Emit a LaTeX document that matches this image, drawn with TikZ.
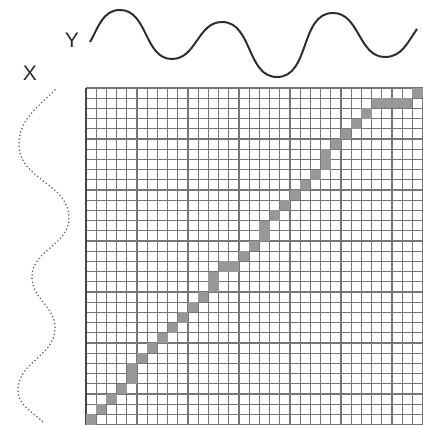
\documentclass[tikz,border=0pt]{standalone}
\usepackage{fontspec}
\setsansfont{Liberation Sans}
\usepackage{tikz}
\definecolor{gridc}{RGB}{118,118,118}
\definecolor{warpc}{RGB}{152,152,152}
\definecolor{wavec}{RGB}{45,45,45}
\definecolor{dotc}{RGB}{100,100,100}

\begin{document}
\begin{tikzpicture}[x=0.25mm,y=-0.25mm]
\useasboundingbox (0,0) rectangle (422,425);
\node[wavec,font=\sffamily\fontsize{15}{17}\selectfont] (ylab) at (72,40) {Y};
\node[wavec,font=\sffamily\fontsize{15}{17}\selectfont] (xlab) at (30,73) {X};
\draw[wavec,line width=1.4pt] (90,42) to[out=60,in=180] (120,10) to[out=0,in=180] (172,59)
  to[out=0,in=180] (222,22) to[out=0,in=180] (277,77) to[out=0,in=180] (333,13)
  to[out=0,in=180] (385,57) to[out=0,in=235] (417,29);
\draw[dotc,line width=1.25pt,line cap=round,dash pattern=on 0pt off 2.6pt] (55,90) to[out=225,in=90] (19,145)
  to[out=270,in=90] (69,218) to[out=270,in=90] (32,277) to[out=270,in=90] (55,328)
  to[out=270,in=90] (18,390) to[out=270,in=135] (43,422);
\begin{scope}[shift={(86,88)},x=2.55mm,y=-2.55mm]
\foreach \i in {0,...,33}{\draw[gridc,line width=.8pt] (\i,0) -- (\i,33); \draw[gridc,line width=.8pt] (0,\i) -- (33,\i);}
\draw[gridc!60!black,line width=1pt] (0,0) -- (0,33);
\foreach \c/\r in {0/32,1/31,2/30,3/29,4/28,4/27,5/26,6/25,7/24,8/23,9/22,10/21,11/20,12/19,12/18,
  13/17,14/17,15/16,16/15,17/14,17/13,18/12,19/11,20/10,21/9,22/8,23/7,23/6,24/5,25/4,26/3,27/2,
  28/1,29/1,30/1,31/1,32/0}{\fill[warpc] (\c,\r) rectangle ++(1,1);}
\end{scope}
\end{tikzpicture}
\end{document}
